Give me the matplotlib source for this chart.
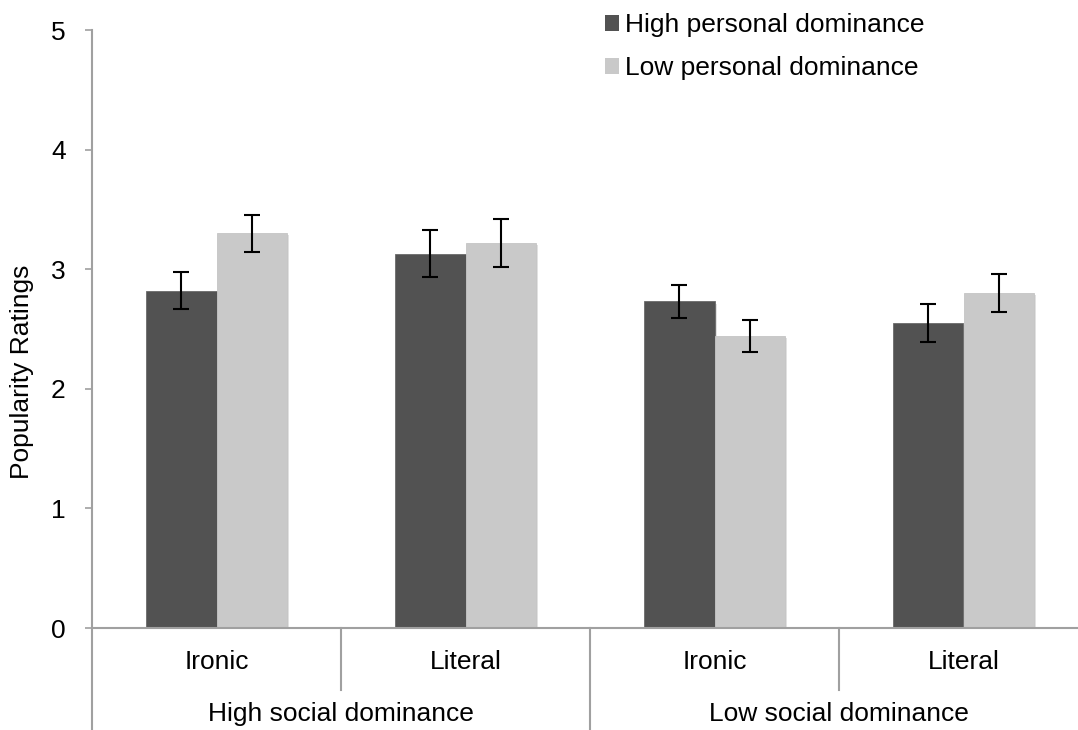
import matplotlib.pyplot as plt
import matplotlib.patheffects as pe
from matplotlib.patches import Patch
import numpy as np

plt.rcParams["font.family"] = ["Liberation Sans", "DejaVu Sans"]

# Data
conditions = ["Ironic", "Literal", "Ironic", "Literal"]
groups = ["High social dominance", "Low social dominance"]
series = ["High personal dominance", "Low personal dominance"]
high_personal = [2.82, 3.13, 2.73, 2.55]
low_personal = [3.30, 3.22, 2.44, 2.80]
high_err = [0.155, 0.195, 0.135, 0.155]
low_err = [0.155, 0.20, 0.135, 0.16]

dark = "#525252"
light = "#C9C9C9"
axis_grey = "#A0A0A0"

fig = plt.figure(figsize=(10.78, 7.30), dpi=100)
ax = fig.add_axes([92 / 1078, 102 / 730, 996 / 1078, 598 / 730])

x = np.arange(len(conditions))
w = 0.283
shadow = [pe.SimplePatchShadow(offset=(1.5, -1.5), shadow_rgbFace="#888888", alpha=0.25), pe.Normal()]
b1 = ax.bar(x - w / 2, high_personal, w, color=dark, edgecolor="#6a6a6a", linewidth=0.6, zorder=2)
b2 = ax.bar(x + w / 2, low_personal, w, color=light, edgecolor="#c4c4c4", linewidth=0.6, zorder=2)
for b in list(b1) + list(b2):
    b.set_path_effects(shadow)

ax.errorbar(x - w / 2, high_personal, yerr=high_err, fmt="none", ecolor="black",
            elinewidth=1.5, capsize=5.8, capthick=1.5, zorder=3)
ax.errorbar(x + w / 2, low_personal, yerr=low_err, fmt="none", ecolor="black",
            elinewidth=1.5, capsize=5.8, capthick=1.5, zorder=3)

ax.set_xlim(-0.5, len(conditions) - 0.5)
ax.set_ylim(0, 5)
ax.set_yticks(range(6))
ax.tick_params(axis="y", labelsize=19, length=5, width=1.2, color=axis_grey, pad=14)
ax.set_xticks([])

for s in ["top", "right", "left"]:
    ax.spines[s].set_visible(False)
ax.spines["bottom"].set_color(axis_grey)
ax.spines["bottom"].set_linewidth(1.5)

tr = ax.get_xaxis_transform()
# y axis line running down through the category area
ax.plot([-0.5, -0.5], [1.0, -0.171], transform=tr, color=axis_grey, lw=1.5,
        clip_on=False, zorder=1)
# dividers between conditions and between groups
for i in range(1, len(conditions)):
    low = -0.171 if i % 2 == 0 else -0.104
    ax.plot([i - 0.5, i - 0.5], [0, low], transform=tr, color=axis_grey, lw=1.5,
            clip_on=False)

for xi, c in zip(x, conditions):
    ax.text(xi, -0.057, c, transform=tr, ha="center", va="center", fontsize=19)
for gi, g in enumerate(groups):
    ax.text(2 * gi + 0.5, -0.144, g, transform=tr, ha="center", va="center", fontsize=19)

ax.set_ylabel("Popularity Ratings", fontsize=19)
ax.yaxis.set_label_coords(-0.058, 0.428)

handles = [Patch(facecolor=dark, edgecolor="none"), Patch(facecolor=light, edgecolor="none")]
ax.legend(handles=handles, labels=series, loc="upper left",
          bbox_to_anchor=(597 / 1078, 0.993), bbox_transform=fig.transFigure,
          frameon=False, fontsize=19, handlelength=0.55, handleheight=0.55,
          handletextpad=0.2, labelspacing=0.72, borderaxespad=0.0, borderpad=0.3)

fig.savefig("out.png", dpi=100)
